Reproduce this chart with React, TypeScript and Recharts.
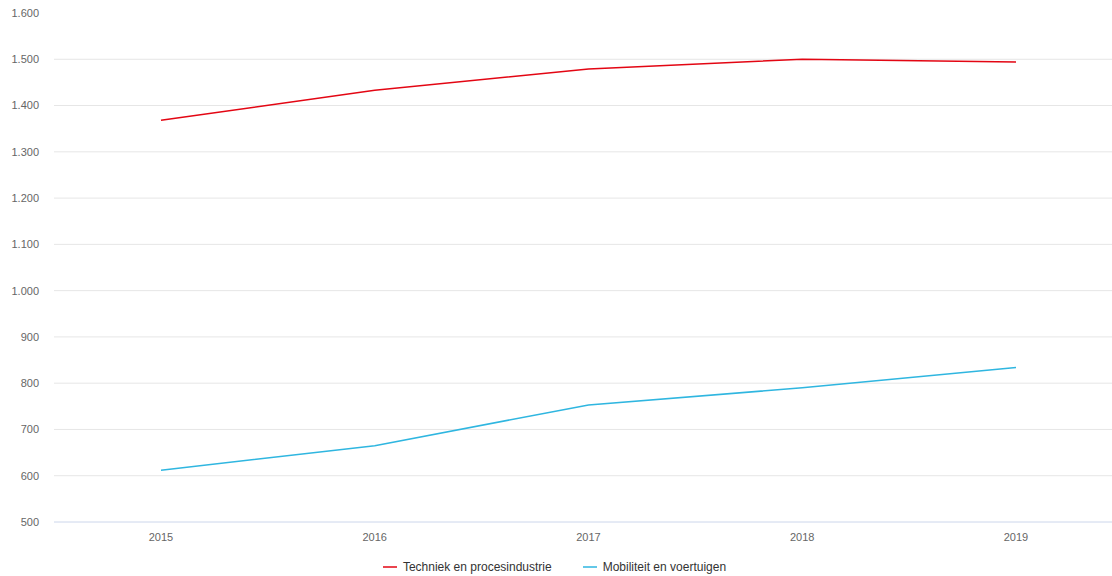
import React from "react";
import { LineChart, Line, XAxis, YAxis, CartesianGrid, Legend } from "recharts";

const years = ["2015", "2016", "2017", "2018", "2019"];
const techniek = [1368, 1433, 1479, 1500, 1494];
const mobiliteit = [612, 665, 753, 790, 834];
const yTicks = [500, 600, 700, 800, 900, 1000, 1100, 1200, 1300, 1400, 1500, 1600];
const gridValues = [600, 700, 800, 900, 1000, 1100, 1200, 1300, 1400, 1500];

const seriesList = [
  { key: "techniek", name: "Techniek en procesindustrie", color: "#e30613" },
  { key: "mobiliteit", name: "Mobiliteit en voertuigen", color: "#2fb6e0" },
];

const data = years.map((year, i) => ({
  year,
  techniek: techniek[i],
  mobiliteit: mobiliteit[i],
}));

const fontFamily = '"Liberation Sans", Arial, Helvetica, sans-serif';

const formatThousands = (v: number) =>
  v >= 1000 ? `${Math.floor(v / 1000)}.${String(v % 1000).padStart(3, "0")}` : String(v);

// Legend kept in series order, with a short line swatch before each label
const SeriesLegend = () => (
  <div
    style={{
      display: "flex",
      justifyContent: "center",
      paddingRight: 14,
      paddingTop: 4,
      boxSizing: "border-box",
      fontSize: 12,
      color: "#333333",
      fontFamily,
      height: 22,
      alignItems: "center",
    }}
  >
    {seriesList.map((s, i) => (
      <div key={s.key} style={{ display: "flex", alignItems: "center", marginLeft: i === 0 ? 0 : 31 }}>
        <svg width={14} height={10} style={{ marginRight: 6 }}>
          <line x1={0} y1={5} x2={14} y2={5} stroke={s.color} strokeWidth={1.5} />
        </svg>
        <span>{s.name}</span>
      </div>
    ))}
  </div>
);

export default function App() {
  return (
    <div style={{ position: "absolute", left: 0, top: 0, width: 1112, height: 576, overflow: "hidden", background: "#fff" }}>
      <LineChart
        width={1124}
        height={576}
        data={data}
        margin={{ top: 13, right: 1, bottom: 0, left: 0 }}
        style={{ fontFamily }}
      >
        <CartesianGrid vertical={false} stroke="#e6e6e6" horizontalValues={gridValues} />
        <XAxis
          dataKey="year"
          padding={{ left: 107, right: 107 }}
          axisLine={{ stroke: "#ccd6eb" }}
          tickLine={false}
          tickSize={0}
          tickMargin={11}
          height={32}
          tick={{ fill: "#666666", fontSize: 11 }}
        />
        <YAxis
          domain={[500, 1600]}
          ticks={yTicks}
          interval={0}
          width={54}
          axisLine={false}
          tickLine={false}
          tickSize={0}
          tickMargin={15}
          tickFormatter={formatThousands}
          tick={{ fill: "#666666", fontSize: 11 }}
        />
        <Legend verticalAlign="bottom" align="center" content={<SeriesLegend />} />
        {seriesList.map((s) => (
          <Line
            key={s.key}
            type="linear"
            dataKey={s.key}
            name={s.name}
            stroke={s.color}
            strokeWidth={1.5}
            dot={false}
            activeDot={false}
            isAnimationActive={false}
          />
        ))}
      </LineChart>
    </div>
  );
}
